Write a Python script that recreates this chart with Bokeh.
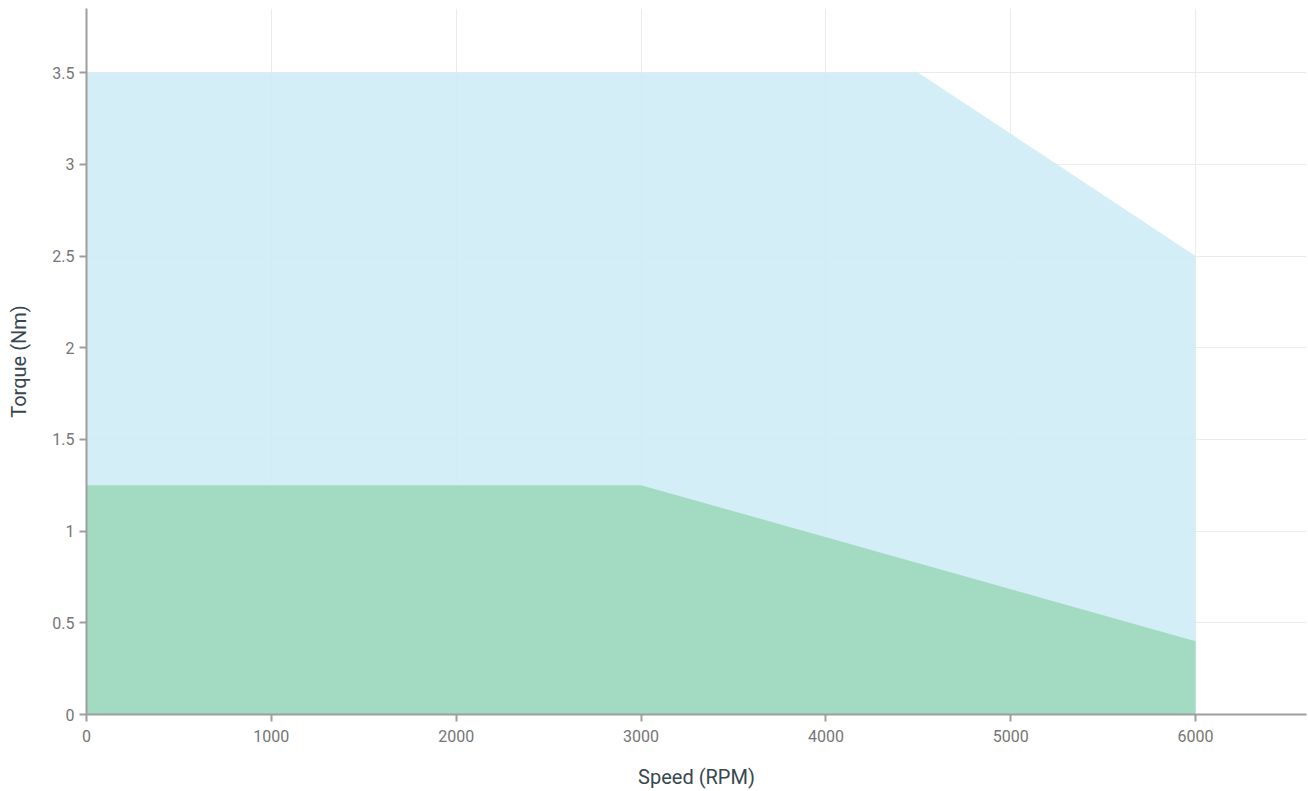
from bokeh.plotting import figure
from bokeh.models import Range1d, FixedTicker, CustomJSTickFormatter
from bokeh.embed import file_html
from bokeh.resources import INLINE

# Data
peak_speed = [0, 4500, 6000]
peak_torque = [3.5, 3.5, 2.5]
cont_speed = [0, 3000, 6000]
cont_torque = [1.25, 1.25, 0.4]
x_ticks = [0, 1000, 2000, 3000, 4000, 5000, 6000]
y_ticks = [0, 0.5, 1, 1.5, 2, 2.5, 3, 3.5]

p = figure(width=1308, height=791, output_backend="svg", toolbar_location=None,
           x_range=Range1d(0, 6600), y_range=Range1d(0, 3.85),
           min_border_left=86, min_border_right=2, min_border_top=8, min_border_bottom=76)
p.outline_line_color = None

p.varea(x=peak_speed, y1=[0] * len(peak_speed), y2=peak_torque,
        fill_color="#CEECF6", fill_alpha=0.9)
p.varea(x=cont_speed, y1=[0] * len(cont_speed), y2=cont_torque,
        fill_color="#9DD8BB", fill_alpha=0.9)

p.xaxis.ticker = FixedTicker(ticks=x_ticks)
p.yaxis.ticker = FixedTicker(ticks=y_ticks)
p.yaxis.formatter = CustomJSTickFormatter(code="return String(tick);")
p.xaxis.formatter = CustomJSTickFormatter(code="return String(tick);")

p.xaxis.axis_label = "Speed (RPM)"
p.yaxis.axis_label = "Torque (Nm)"

for ax in (p.xaxis, p.yaxis):
    ax.axis_line_color = "#9e9e9e"
    ax.axis_line_width = 2
    ax.major_tick_line_color = "#9e9e9e"
    ax.major_tick_line_width = 2
    ax.major_tick_out = 7
    ax.major_tick_in = 0
    ax.minor_tick_line_color = None
    ax.major_label_text_font = "Roboto"
    ax.major_label_text_font_size = "16px"
    ax.major_label_text_color = "#757575"
    ax.axis_label_text_font = "Roboto"
    ax.axis_label_text_font_size = "20px"
    ax.axis_label_text_font_style = "normal"
    ax.axis_label_text_color = "#37474f"

p.xaxis.major_label_standoff = 8
p.xaxis.axis_label_standoff = 20
p.yaxis.major_label_standoff = 5
p.yaxis.axis_label_standoff = 18

p.xgrid.ticker = FixedTicker(ticks=x_ticks)
p.ygrid.ticker = FixedTicker(ticks=y_ticks)
p.grid.grid_line_color = "#ebebeb"
p.grid.grid_line_width = 1

open("out.html", "w").write(file_html(p, INLINE))
